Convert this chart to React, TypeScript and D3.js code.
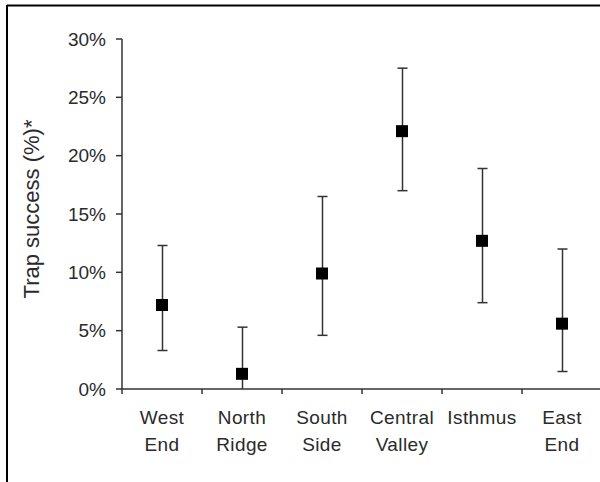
import * as d3 from 'd3';
import React from 'react';

const categories: string[][] = [
    ['West', 'End'],
    ['North', 'Ridge'],
    ['South', 'Side'],
    ['Central', 'Valley'],
    ['Isthmus'],
    ['East', 'End'],
];
const means = [7.2, 1.3, 9.9, 22.1, 12.7, 5.6];
const lower = [3.3, 0, 4.6, 17.0, 7.4, 1.5];
const upper = [12.3, 5.3, 16.5, 27.5, 18.9, 12.0];
const yTicks = [0, 5, 10, 15, 20, 25, 30];

const width = 600;
const height = 482;
const textColour = '#2a2a2a';
const lineColour = '#333';

const App = () => {
    const keys = categories.map((c) => c.join(' '));
    const xScale = d3.scaleBand().domain(keys).range([122, 602]);
    const yScale = d3.scaleLinear().domain([0, 30]).range([389, 39]);
    const band = xScale.bandwidth();
    const font = '"Liberation Sans", Arial, sans-serif';

    const boundaries = keys.map((k) => xScale(k) as number);

    return (
        <div style={{ position: 'absolute', left: 0, top: 0 }}>
            <svg width={width} height={height} style={{ display: 'block', background: '#fff' }} fontFamily={font}>
                {/* frame (left and top edges only visible) */}
                <line x1={7} y1={5.5} x2={width} y2={5.5} stroke="#000" strokeWidth={2} />
                <line x1={7} y1={5} x2={7} y2={height} stroke="#000" strokeWidth={2} />

                {/* y axis */}
                <line x1={122} y1={yScale(30)} x2={122} y2={yScale(0)} stroke={lineColour} strokeWidth={1.5} />
                {yTicks.map((t) => (
                    <g key={t}>
                        <line x1={116} x2={122} y1={yScale(t)} y2={yScale(t)} stroke={lineColour} strokeWidth={1.5} />
                        <text x={106} y={yScale(t)} dy="0.35em" textAnchor="end" fontSize={19} fill={textColour}>
                            {t}%
                        </text>
                    </g>
                ))}

                {/* x axis */}
                <line x1={122} y1={yScale(0)} x2={602} y2={yScale(0)} stroke={lineColour} strokeWidth={1.5} />
                {boundaries.concat([602]).map((bx, i) => (
                    <line key={i} x1={bx} x2={bx} y1={yScale(0)} y2={yScale(0) + 5} stroke={lineColour} strokeWidth={1.5} />
                ))}
                {categories.map((lines, i) => {
                    const cx = (xScale(keys[i]) as number) + band / 2;
                    return (
                        <text key={keys[i]} textAnchor="middle" fontSize={19} letterSpacing={0.4} fill={textColour}>
                            {lines.map((l, j) => (
                                <tspan key={j} x={cx} y={424 + j * 27}>{l}</tspan>
                            ))}
                        </text>
                    );
                })}

                {/* y label */}
                <text
                    transform="translate(39, 209) rotate(-90)"
                    textAnchor="middle"
                    fontSize={22}
                    fill={textColour}
                >
                    Trap success (%)*
                </text>

                {/* error bars and means */}
                {keys.map((k, i) => {
                    const cx = (xScale(k) as number) + band / 2;
                    return (
                        <g key={k}>
                            <line x1={cx + 0.5} x2={cx + 0.5} y1={yScale(upper[i])} y2={yScale(lower[i])} stroke={lineColour} strokeWidth={1.5} />
                            <line x1={cx - 4.5} x2={cx + 5.5} y1={yScale(upper[i])} y2={yScale(upper[i])} stroke={lineColour} strokeWidth={1.5} />
                            {lower[i] > 0 && (
                                <line x1={cx - 4.5} x2={cx + 5.5} y1={yScale(lower[i])} y2={yScale(lower[i])} stroke={lineColour} strokeWidth={1.5} />
                            )}
                            <rect x={cx - 6} y={yScale(means[i]) - 6} width={12} height={12} fill="#000" />
                        </g>
                    );
                })}
            </svg>
        </div>
    );
};

export default App;
